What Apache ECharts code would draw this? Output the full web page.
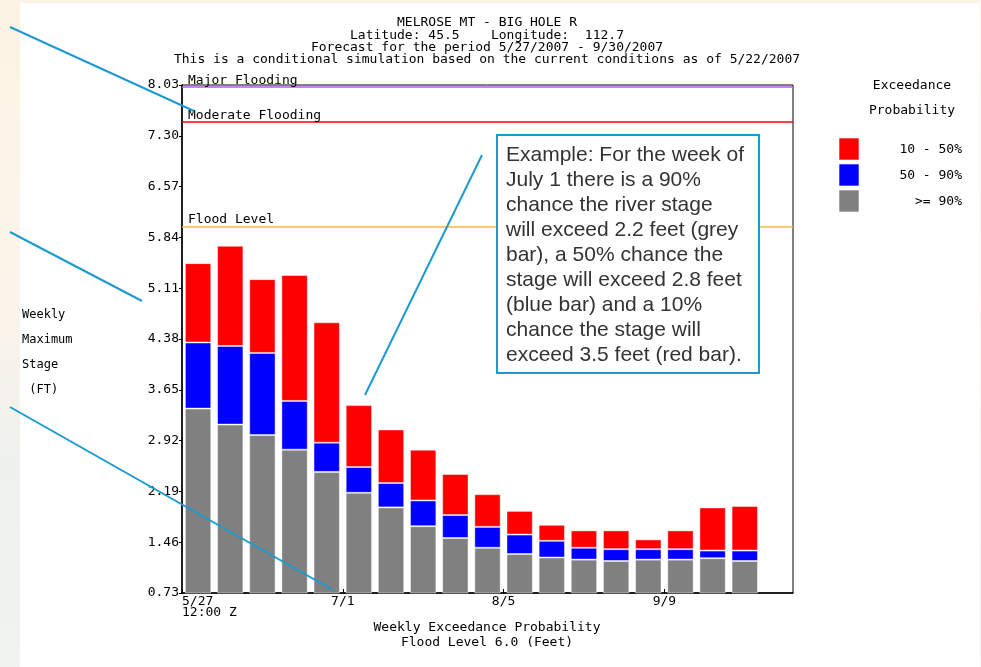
<!DOCTYPE html>
<html>
<head>
<meta charset="utf-8">
<script src="https://cdn.jsdelivr.net/npm/echarts@6/dist/echarts.min.js"></script>
<style>
  html, body { margin: 0; padding: 0; }
  body { width: 981px; height: 667px; overflow: hidden;
    background: linear-gradient(180deg, #fdf3e4 0%, #fcf4ea 45%, #eef1ee 70%, #f1f3f1 100%); position: relative; }
  #panel { position: absolute; left: 20px; top: 3px; width: 960px; height: 664px; background: #ffffff; }
  #chart { position: absolute; left: 0; top: 0; width: 981px; height: 667px; }
</style>
</head>
<body>
<div id="panel"></div>
<div id="chart"></div>
<script>
// ---- data ----
const weeks = ['5/27','6/3','6/10','6/17','6/24','7/1','7/8','7/15','7/22','7/29','8/5','8/12','8/19','8/26','9/2','9/9','9/16','9/23','9/30'];
const tickLabels = ['5/27\n12:00 Z', '7/1', '8/5', '9/9'];
// stage exceeded with 90%, 50%, 10% probability (feet)
const p90 = [3.38, 3.15, 3.00, 2.79, 2.47, 2.17, 1.96, 1.69, 1.52, 1.38, 1.29, 1.24, 1.21, 1.19, 1.21, 1.21, 1.23, 1.19];
const p50 = [4.33, 4.28, 4.18, 3.49, 2.89, 2.54, 2.31, 2.06, 1.85, 1.68, 1.57, 1.48, 1.38, 1.36, 1.36, 1.36, 1.34, 1.34];
const p10 = [5.47, 5.72, 5.24, 5.30, 4.62, 3.43, 3.08, 2.79, 2.44, 2.15, 1.91, 1.71, 1.63, 1.63, 1.50, 1.63, 1.96, 1.98];
const floodLevels = [
  { name: 'Major Flooding', value: 8.0, color: '#c552f2' },
  { name: 'Moderate Flooding', value: 7.5, color: '#ff0000' },
  { name: 'Flood Level', value: 6.0, color: '#ffb347' }
];
const yMin = 0.73, yMax = 8.03, yStep = 0.73;
const titleLines = [
  'MELROSE MT - BIG HOLE R',
  'Latitude: 45.5    Longitude:  112.7',
  'Forecast for the period 5/27/2007 - 9/30/2007',
  'This is a conditional simulation based on the current conditions as of 5/22/2007'
];
const xTitleLines = ['Weekly Exceedance Probability', 'Flood Level 6.0 (Feet)'];
const yTitleLines = ['Weekly', 'Maximum', 'Stage', ' (FT)'];
const legendItems = [
  { label: '10 - 50%', color: '#ff0000' },
  { label: '50 - 90%', color: '#0000ff' },
  { label: '>= 90%', color: '#808080' }
];
const noteText = 'Example: For the week of\nJuly 1 there is a 90%\nchance the river stage\nwill exceed 2.2 feet (grey\nbar), a 50% chance the\nstage will exceed 2.8 feet\n(blue bar) and a 10%\nchance the stage will\nexceed 3.5 feet (red bar).';

// ---- derived stack segments ----
const seg50 = p50.map((v, i) => +(v - p90[i]).toFixed(2));
const seg10 = p10.map((v, i) => +(v - p50[i]).toFixed(2));

const MONO = '"DejaVu Sans Mono", monospace';
const chart = echarts.init(document.getElementById('chart'), null, { renderer: 'canvas' });

const lineColor = '#1b9ad2';
const graphics = [
  // y axis title
  { type: 'text', left: 22, top: 302, z: 10,
    style: { text: yTitleLines.join('\n'), font: '12px ' + MONO, lineHeight: 25, fill: '#000' } },
  // legend header
  { type: 'text', x: 912, y: 86, z: 10,
    style: { text: 'Exceedance', font: '13px ' + MONO, fill: '#000', align: 'center', verticalAlign: 'middle' } },
  { type: 'text', x: 912, y: 111, z: 10,
    style: { text: 'Probability', font: '13px ' + MONO, fill: '#000', align: 'center', verticalAlign: 'middle' } },
  // annotation box
  { type: 'rect', z: 20, shape: { x: 497, y: 135, width: 262, height: 238 },
    style: { fill: '#ffffff', stroke: lineColor, lineWidth: 2 } },
  { type: 'text', x: 506, y: 143, z: 21,
    style: { text: noteText, font: '21px "Liberation Sans", Arial, sans-serif', lineHeight: 25, fill: '#333333' } },
  // callout lines
  { type: 'line', z: 30, shape: { x1: 10, y1: 27, x2: 194, y2: 111 }, style: { stroke: lineColor, lineWidth: 2 } },
  { type: 'line', z: 30, shape: { x1: 10, y1: 232, x2: 142, y2: 301 }, style: { stroke: lineColor, lineWidth: 2 } },
  { type: 'line', z: 30, shape: { x1: 10, y1: 407, x2: 333, y2: 590 }, style: { stroke: lineColor, lineWidth: 2 } },
  { type: 'line', z: 30, shape: { x1: 365, y1: 395, x2: 482, y2: 155 }, style: { stroke: lineColor, lineWidth: 2 } }
];
legendItems.forEach((it, i) => {
  const y = 138 + i * 26;
  graphics.push({ type: 'rect', z: 10, shape: { x: 839, y: y, width: 20, height: 22 },
    style: { fill: it.color, stroke: 'rgba(255,255,255,0.6)', lineWidth: 1 } });
  graphics.push({ type: 'text', x: 962, y: y + 12, z: 10,
    style: { text: it.label, font: '13px ' + MONO, fill: '#000', align: 'right', verticalAlign: 'middle' } });
});

const barBorder = { borderColor: 'rgba(255,255,255,0.45)', borderWidth: 1 };

const option = {
  animation: false,
  backgroundColor: 'transparent',
  title: [
    { text: titleLines.join('\n'), left: 487, top: 17, padding: 0, textAlign: 'center',
      textStyle: { fontFamily: MONO, fontSize: 13, fontWeight: 'normal', color: '#000', lineHeight: 12.2 } },
    { text: xTitleLines.join('\n'), left: 487, top: 620, padding: 0, textAlign: 'center',
      textStyle: { fontFamily: MONO, fontSize: 13, fontWeight: 'normal', color: '#000', lineHeight: 15 } }
  ],
  grid: { left: 182, top: 85, width: 611, height: 508, show: true, borderColor: '#000', borderWidth: 1,
    backgroundColor: 'transparent', containLabel: false },
  xAxis: [
    { type: 'category', data: weeks, position: 'top', boundaryGap: true,
      axisLine: { show: false }, axisTick: { show: false }, axisLabel: { show: false }, splitLine: { show: false } },
    { type: 'value', position: 'bottom', min: 0, max: weeks.length, interval: 5,
      axisLine: { show: true, lineStyle: { color: '#000', width: 1.5 } },
      axisTick: { show: true, inside: true, length: 4, lineStyle: { color: '#000' } },
      splitLine: { show: false },
      axisLabel: { show: true, margin: 3, color: '#000', fontFamily: MONO, fontSize: 13, lineHeight: 11,
        alignMinLabel: 'left', showMaxLabel: false,
        formatter: v => (v % 5 === 0 && v / 5 < tickLabels.length) ? tickLabels[v / 5] : '' } }
  ],
  yAxis: {
    type: 'value', min: yMin, max: yMax, interval: yStep,
    axisLine: { show: true, lineStyle: { color: '#000', width: 1.5 } },
    axisTick: { show: true, length: 3, lineStyle: { color: '#000' } },
    splitLine: { show: false },
    axisLabel: { margin: 3, color: '#000', fontFamily: MONO, fontSize: 13, formatter: v => v.toFixed(2) }
  },
  series: [
    { name: '>= 90%', type: 'bar', stack: 's', xAxisIndex: 0, data: p90, barCategoryGap: '18%',
      itemStyle: Object.assign({ color: '#808080' }, barBorder),
      markLine: { silent: true, symbol: 'none', z: 5,
        data: floodLevels.map(f => ({ yAxis: f.value, name: f.name,
          lineStyle: { color: f.color, width: 1.5, type: 'solid' },
          label: { show: true, position: 'insideStartTop', formatter: f.name, distance: [6, 0],
            color: '#000', fontFamily: MONO, fontSize: 13 } })) } },
    { name: '50 - 90%', type: 'bar', stack: 's', xAxisIndex: 0, data: seg50, barCategoryGap: '18%',
      itemStyle: Object.assign({ color: '#0000ff' }, barBorder) },
    { name: '10 - 50%', type: 'bar', stack: 's', xAxisIndex: 0, data: seg10, barCategoryGap: '18%',
      itemStyle: Object.assign({ color: '#ff0000' }, barBorder) }
  ],
  graphic: graphics
};
chart.setOption(option);
</script>
</body>
</html>
